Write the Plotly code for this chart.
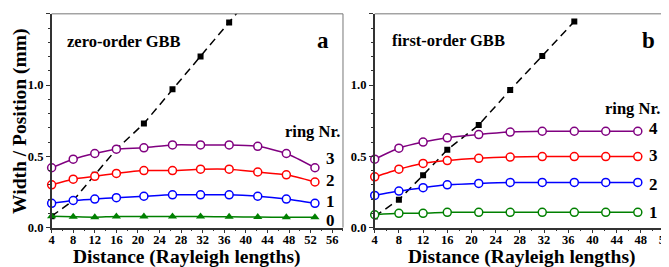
import plotly.graph_objects as go

# ---------------- data ----------------
dist_a = [4, 8, 12, 16, 21.1, 26.4, 31.6, 36.9, 42.2, 47.5, 52.8]
ring0_a = [0.080, 0.076, 0.073, 0.078, 0.077, 0.077, 0.077, 0.076, 0.074, 0.072, 0.073]
ring1_a = [0.17, 0.19, 0.20, 0.21, 0.22, 0.23, 0.23, 0.23, 0.22, 0.20, 0.17]
ring2_a = [0.30, 0.34, 0.36, 0.38, 0.40, 0.40, 0.41, 0.41, 0.39, 0.37, 0.32]
ring3_a = [0.42, 0.48, 0.52, 0.55, 0.56, 0.58, 0.58, 0.58, 0.57, 0.52, 0.42]
width_a_x = [4, 8, 12, 16, 21.1, 26.4, 31.6, 36.9, 42.2]
width_a = [0.08, 0.19, 0.37, 0.55, 0.73, 0.97, 1.20, 1.44, 1.68]

dist_b = [4, 8, 12, 16, 21.2, 26.4, 31.7, 37.0, 42.2, 47.5]
ring1_b = [0.090, 0.100, 0.100, 0.107, 0.107, 0.107, 0.107, 0.107, 0.107, 0.107]
ring2_b = [0.226, 0.256, 0.280, 0.300, 0.310, 0.317, 0.317, 0.317, 0.317, 0.317]
ring3_b = [0.356, 0.410, 0.450, 0.470, 0.486, 0.495, 0.498, 0.498, 0.498, 0.498]
ring4_b = [0.480, 0.557, 0.600, 0.630, 0.653, 0.670, 0.676, 0.676, 0.676, 0.676]
width_b_x = [4, 8, 12, 16, 21.2, 26.4, 31.7, 37.0]
width_b = [0.078, 0.196, 0.368, 0.546, 0.72, 0.966, 1.205, 1.447]

x_ticks_a = list(range(4, 57, 4))
x_ticks_b = list(range(4, 53, 4))
y_ticks = [0.0, 0.5, 1.0, 1.5]

PURPLE = "#800080"
RED = "#FF0000"
BLUE = "#0000FF"
GREEN = "#008000"
FONT = "Liberation Serif"

W, H = 669, 267

fig = go.Figure()


def ring(x, y, color, xa, ya, symbol="circle-open"):
    if symbol == "triangle-up":
        marker = dict(symbol="triangle-up", size=8, color=color)
    else:
        marker = dict(symbol="circle", size=8, color="white",
                      line=dict(color=color, width=1.5))
    fig.add_trace(go.Scatter(x=x, y=y, mode="lines+markers", xaxis=xa, yaxis=ya,
                             line=dict(color=color, width=1.5, shape="spline", smoothing=0.6),
                             marker=marker, cliponaxis=False, showlegend=False))


def width_trace(x, y, xa, ya):
    fig.add_trace(go.Scatter(x=x, y=y, mode="lines+markers", xaxis=xa, yaxis=ya,
                             line=dict(color="black", width=1.5, dash="8px,5px"),
                             marker=dict(symbol="square", size=6, color="black"),
                             showlegend=False))


# panel a
width_trace(width_a_x, width_a, "x", "y")
ring(dist_a, ring0_a, GREEN, "x", "y", symbol="triangle-up")
ring(dist_a, ring1_a, BLUE, "x", "y")
ring(dist_a, ring2_a, RED, "x", "y")
ring(dist_a, ring3_a, PURPLE, "x", "y")

# panel b
width_trace(width_b_x, width_b, "x2", "y2")
ring(dist_b, ring1_b, GREEN, "x2", "y2")
ring(dist_b, ring2_b, BLUE, "x2", "y2")
ring(dist_b, ring3_b, RED, "x2", "y2")
ring(dist_b, ring4_b, PURPLE, "x2", "y2")

tickfont = dict(family=FONT, size=12.5, color="black", weight="bold")
ydom = [1 - 225.5 / H, 1 - 6 / H]


def xaxis(rng, ticks, dom, anchor):
    return dict(domain=dom, range=rng, anchor=anchor, tickvals=ticks,
                ticks="outside", ticklen=4, tickwidth=1.2, tickcolor="#333",
                showline=True, linecolor="#333", linewidth=1.5,
                showgrid=False, zeroline=False, tickfont=tickfont,
                ticklabelstandoff=-4,
                minor=dict(ticks="outside", ticklen=2, dtick=2, tick0=0, tickcolor="#333",
                           showgrid=False))


def yaxis(anchor):
    return dict(domain=ydom, range=[0, 1.5], anchor=anchor, tickvals=y_ticks,
                ticktext=["%.1f" % v for v in y_ticks],
                ticks="outside", ticklen=4, tickwidth=1.2, tickcolor="#333",
                showline=True, linecolor="#333", linewidth=1.5,
                showgrid=False, zeroline=False, tickfont=tickfont,
                minor=dict(ticks="outside", ticklen=2, dtick=0.1, tick0=0, tickcolor="#333",
                           showgrid=False))


fig.update_layout(
    width=W, height=H,
    margin=dict(l=0, r=0, t=0, b=0),
    paper_bgcolor="white", plot_bgcolor="white",
    xaxis=xaxis([4, 58], x_ticks_a, [41 / W, 335 / W], "y"),
    yaxis=yaxis("x"),
    xaxis2=xaxis([4, 52.5], x_ticks_b, [367 / W, 663 / W], "y2"),
    yaxis2=yaxis("x2"),
)

# grey top / right frame lines
shapes = []
for xr, yr in [("x domain", "y domain"), ("x2 domain", "y2 domain")]:
    shapes.append(dict(type="line", xref=xr, yref=yr, x0=1, x1=1, y0=0, y1=1,
                       line=dict(color="#777", width=1)))
    shapes.append(dict(type="line", xref=xr, yref=yr, x0=0, x1=1, y0=1, y1=1,
                       line=dict(color="#777", width=1)))
fig.update_layout(shapes=shapes)


def txt(text, px, py, size, xanchor="center", angle=0):
    fig.add_annotation(text=text, x=px / W, y=1 - py / H, xref="paper", yref="paper",
                       xanchor=xanchor, yanchor="middle", showarrow=False, textangle=angle,
                       font=dict(family=FONT, size=size, color="black", weight="bold"))


# axis titles
txt("Width / Position (mm)", 9, 116, 19.5, angle=-90)
txt("Distance (Rayleigh lengths)", 178, 256, 19.5)
txt("Distance (Rayleigh lengths)", 516, 256, 19.5)

# panel a text
txt("zero-order GBB", 114, 34, 16.5)
txt("a", 315, 33, 23)
txt("ring Nr.", 304, 127, 16.5)
for lab, py in zip(["3", "2", "1", "0"], [155, 177, 199, 218]):
    txt(lab, 322, py, 17)

# panel b text
txt("first-order GBB", 441, 33, 16.5)
txt("b", 643, 33, 23)
txt("ring Nr.", 627, 103, 16.5)
for lab, py in zip(["4", "3", "2", "1"], [124, 151, 181, 210]):
    txt(lab, 648, py, 17)

fig.write_html("out.html")
